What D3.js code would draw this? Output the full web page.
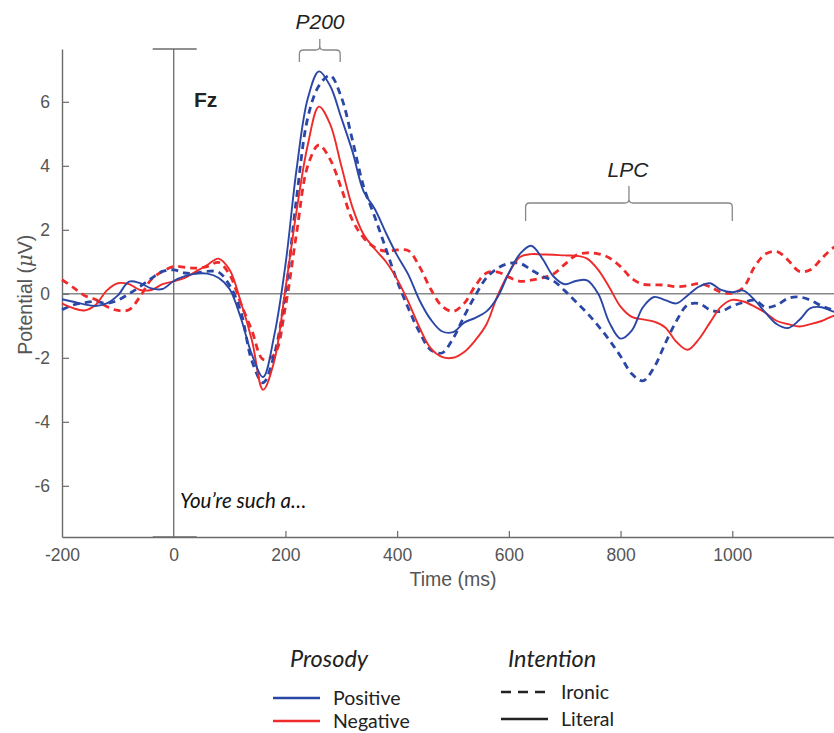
<!DOCTYPE html>
<html>
<head>
<meta charset="utf-8">
<script src="https://cdn.jsdelivr.net/npm/d3@7"></script>
<style>
  body { margin: 0; background: #fff; }
  svg { display: block; }
</style>
</head>
<body>
<svg id="chart" width="834" height="733"></svg>
<script>
// time points (ms)
const times = d3.range(-200, 1201, 20);

// Positive prosody, literal (blue solid)
const posLiteral = [
  -0.17, -0.25, -0.33, -0.38, -0.3, -0.05, 0.38, 0.33, 0.17, 0.15,
  0.4, 0.55, 0.63, 0.63, 0.5, 0.15, -0.75, -1.9, -2.6, -1.3,
  0.9, 3.9, 6.1, 6.95, 6.5, 5.5, 4.45, 3.2, 2.65, 1.9,
  1.2, 0.6, -0.2, -0.8, -1.17, -1.2, -0.9, -0.75, -0.55, -0.1,
  0.65, 1.25, 1.5, 1.1, 0.54, 0.3, 0.4, 0.42, 0.0, -0.9,
  -1.4, -1.15, -0.42, -0.1, -0.2, -0.3, -0.05, 0.22, 0.33, 0.12,
  0.05, 0.1, -0.2, -0.6, -0.95, -1.07, -0.82, -0.45, -0.42, -0.55,
  -0.6
];

// Positive prosody, ironic (blue dashed)
const posIronic = [
  -0.5, -0.35, -0.28, -0.24, -0.3, -0.2, 0.0, 0.23, 0.48, 0.7,
  0.75, 0.65, 0.65, 0.7, 0.68, 0.27, -0.55, -2.1, -2.78, -1.9,
  0.03, 3.0, 5.5, 6.5, 6.82, 6.15, 4.8, 3.35, 2.4, 1.4,
  0.4, -0.45, -1.2, -1.75, -1.85, -1.4, -0.7, -0.05, 0.5, 0.8,
  0.95, 0.95, 0.75, 0.55, 0.4, 0.1, -0.25, -0.6, -1.0, -1.45,
  -1.95, -2.5, -2.72, -2.3, -1.55, -0.85, -0.35, -0.3, -0.5, -0.55,
  -0.38, -0.27, -0.2, -0.42, -0.35, -0.14, -0.1, -0.2, -0.38, -0.5,
  -0.55
];

// Negative prosody, literal (red solid)
const negLiteral = [
  -0.3, -0.45, -0.52, -0.35, 0.1, 0.33, 0.3, 0.12, 0.12, 0.3,
  0.39, 0.5, 0.7, 0.9, 1.1, 0.75, -0.25, -1.45, -3.0, -2.1,
  0.15, 2.6, 4.65, 5.85, 5.3, 4.0, 2.7, 1.85, 1.4, 1.0,
  0.45, -0.25, -1.05, -1.7, -1.97, -2.0, -1.82, -1.45, -0.95, -0.05,
  0.65, 1.15, 1.24, 1.23, 1.22, 1.2, 1.19, 1.1, 0.75, 0.2,
  -0.4, -0.72, -0.8, -0.87, -1.05, -1.5, -1.75, -1.42, -0.9, -0.4,
  -0.19, -0.24, -0.4, -0.6, -0.85, -0.95, -1.02, -0.95, -0.85, -0.7,
  -0.62
];

// Negative prosody, ironic (red dashed)
const negIronic = [
  0.44, 0.2, -0.05, -0.18, -0.4, -0.52, -0.5, -0.08, 0.45, 0.7,
  0.85, 0.83, 0.8, 0.85, 0.98, 0.6, -0.3, -1.15, -2.05, -1.9,
  -0.4, 1.9, 4.0, 4.65, 4.2, 3.3, 2.3, 1.75, 1.45, 1.33,
  1.37, 1.35, 0.85, 0.15, -0.38, -0.55, -0.3, 0.25, 0.65, 0.68,
  0.52, 0.39, 0.43, 0.5, 0.62, 0.92, 1.2, 1.28, 1.25, 1.12,
  0.85, 0.48, 0.3, 0.28, 0.27, 0.22, 0.25, 0.32, 0.22, 0.05,
  0.02, 0.2, 0.85, 1.25, 1.32, 1.05, 0.7, 0.75, 1.1, 1.43,
  1.6
];

const xTicks = [-200, 0, 200, 400, 600, 800, 1000];
const yTicks = [-6, -4, -2, 0, 2, 4, 6];

const blue = "#2b47a6";
const red = "#ee2a2a";
const axisColor = "#6b6b6b";
const labelColor = "#555";

const series = [
  { name: "Negative Ironic", values: negIronic, color: red, dashed: true },
  { name: "Positive Ironic", values: posIronic, color: blue, dashed: true },
  { name: "Negative Literal", values: negLiteral, color: red, dashed: false },
  { name: "Positive Literal", values: posLiteral, color: blue, dashed: false }
];

const svg = d3.select("#chart");

const x = d3.scaleLinear().domain([-200, 1200]).range([62, 844]);
const y = d3.scaleLinear().domain([-7.6, 7.65]).range([537, 49]);

// zero line
svg.append("line")
  .attr("x1", x(-200)).attr("x2", x(1200))
  .attr("y1", y(0)).attr("y2", y(0))
  .attr("stroke", "#888").attr("stroke-width", 1.5);

// stimulus onset line with caps
const onset = svg.append("g").attr("stroke", axisColor).attr("stroke-width", 1.3);
onset.append("line")
  .attr("x1", x(0)).attr("x2", x(0))
  .attr("y1", y(7.65)).attr("y2", y(-7.6));
onset.append("line")
  .attr("x1", x(0) - 21).attr("x2", x(0) + 23)
  .attr("y1", y(7.65)).attr("y2", y(7.65));
onset.append("line")
  .attr("x1", x(0) - 21).attr("x2", x(0) + 23)
  .attr("y1", y(-7.6)).attr("y2", y(-7.6));

// axes
const xAxis = svg.append("g")
  .attr("transform", `translate(0,${y(-7.6)})`)
  .call(d3.axisBottom(x).tickValues(xTicks).tickSizeInner(-6).tickSizeOuter(0).tickPadding(12).tickFormat(d => String(d)));
const yAxis = svg.append("g")
  .attr("transform", `translate(${x(-200)},0)`)
  .call(d3.axisLeft(y).tickValues(yTicks).tickSizeInner(-7).tickSizeOuter(0).tickPadding(12).tickFormat(d => String(d)));

[xAxis, yAxis].forEach(a => {
  a.select(".domain").attr("stroke", axisColor).attr("stroke-width", 1.4);
  a.selectAll(".tick line").attr("stroke", axisColor).attr("stroke-width", 1.2);
  a.selectAll(".tick text")
    .attr("fill", labelColor)
    .style("font-family", "'Liberation Sans', Arial, sans-serif")
    .style("font-size", "17.5px");
});
// MATLAB hides the tick at the origin
xAxis.selectAll(".tick").filter(d => d === -200 || d === 0).select("line").remove();

// axis labels
svg.append("text")
  .attr("x", 453).attr("y", 586)
  .attr("text-anchor", "middle")
  .attr("fill", labelColor)
  .style("font-family", "'Liberation Sans', Arial, sans-serif")
  .style("font-size", "19.5px")
  .text("Time (ms)");

const yl = svg.append("text")
  .attr("transform", `translate(32,${y(0) + 1}) rotate(-90)`)
  .attr("text-anchor", "middle")
  .attr("fill", labelColor)
  .style("font-family", "'Liberation Sans', Arial, sans-serif")
  .style("font-size", "19.5px");
yl.append("tspan").text("Potential (");
yl.append("tspan").style("font-family", "'DejaVu Serif', serif").style("font-style", "italic").text("μ");
yl.append("tspan").text("V)");

// waveforms
const line = d3.line()
  .x((d, i) => x(times[i]))
  .y(d => y(d))
  .curve(d3.curveCatmullRom.alpha(0.5));

svg.append("g")
  .selectAll("path")
  .data(series)
  .enter().append("path")
  .attr("d", d => line(d.values))
  .attr("fill", "none")
  .attr("stroke", d => d.color)
  .attr("stroke-width", d => d.dashed ? 2.8 : 1.9)
  .attr("stroke-dasharray", d => d.dashed ? "7,5" : null);

// annotations
svg.append("text")
  .attr("x", 194).attr("y", 107)
  .attr("fill", "#222")
  .style("font-family", "'Liberation Sans', Arial, sans-serif")
  .style("font-size", "21px").style("font-weight", "bold")
  .text("Fz");

svg.append("text")
  .attr("x", 180).attr("y", 508)
  .attr("fill", "#111")
  .style("font-family", "Lato, sans-serif")
  .style("font-size", "20.5px").style("font-style", "italic")
  .text("You’re such a…");

function brace(x0, x1, yTop, yBottom, notch) {
  const xm = (x0 + x1) / 2;
  const r = 4;
  const p = d3.path();
  p.moveTo(x0, yBottom);
  p.lineTo(x0, yTop + r);
  p.quadraticCurveTo(x0, yTop, x0 + r, yTop);
  p.lineTo(xm - r, yTop);
  p.quadraticCurveTo(xm, yTop, xm, yTop - r);
  p.lineTo(xm, notch);
  p.moveTo(xm, yTop - r);
  p.quadraticCurveTo(xm, yTop, xm + r, yTop);
  p.lineTo(x1 - r, yTop);
  p.quadraticCurveTo(x1, yTop, x1, yTop + r);
  p.lineTo(x1, yBottom);
  svg.append("path")
    .attr("d", p.toString())
    .attr("fill", "none")
    .attr("stroke", "#888")
    .attr("stroke-width", 1.3);
}
brace(x(225), x(298), 50, 62, 39);
brace(x(630), x(1000), 203, 221, 186);

svg.append("text")
  .attr("x", 320).attr("y", 29)
  .attr("text-anchor", "middle")
  .attr("fill", "#222")
  .style("font-family", "'Liberation Sans', Arial, sans-serif")
  .style("font-size", "21px").style("font-style", "italic")
  .text("P200");

svg.append("text")
  .attr("x", 628).attr("y", 177)
  .attr("text-anchor", "middle")
  .attr("fill", "#222")
  .style("font-family", "'Liberation Sans', Arial, sans-serif")
  .style("font-size", "21px").style("font-style", "italic")
  .text("LPC");

// legend
const legend = svg.append("g")
  .style("font-family", "Lato, sans-serif")
  .attr("fill", "#222");

legend.append("text").attr("x", 290).attr("y", 667)
  .style("font-size", "23.5px").style("font-style", "italic").text("Prosody");
legend.append("text").attr("x", 508).attr("y", 667)
  .style("font-size", "23.5px").style("font-style", "italic").text("Intention");

const legendItems = [
  { label: "Positive", color: blue, dash: null, x: 273, y: 698 },
  { label: "Negative", color: red, dash: null, x: 273, y: 721 },
  { label: "Ironic", color: "#222", dash: "10,7", x: 501, y: 692 },
  { label: "Literal", color: "#222", dash: null, x: 501, y: 719 }
];

legendItems.forEach(it => {
  legend.append("line")
    .attr("x1", it.x).attr("x2", it.x + 47)
    .attr("y1", it.y).attr("y2", it.y)
    .attr("stroke", it.color)
    .attr("stroke-width", 2.6)
    .attr("stroke-dasharray", it.dash);
  legend.append("text")
    .attr("x", it.x + 60).attr("y", it.y + 7)
    .style("font-size", "19.5px")
    .text(it.label);
});
</script>
</body>
</html>
